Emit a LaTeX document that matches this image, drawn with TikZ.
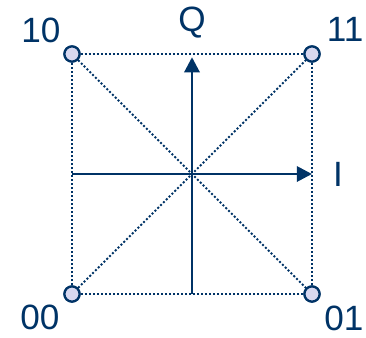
\documentclass[tikz,border=0pt]{standalone}
\usepackage{fontspec}
\setmainfont{Liberation Sans}
\usetikzlibrary{arrows.meta}
\definecolor{navy}{RGB}{0,51,102}
\definecolor{dotfill}{RGB}{216,216,240}
\begin{document}
\begin{tikzpicture}[
  pt/.style={circle,draw=navy,fill=dotfill,line width=1.6pt,minimum size=0.38cm,inner sep=0pt},
  lbl/.style={text=navy,inner sep=0pt,font=\fontsize{25}{30}\selectfont},
  grid/.style={navy,line width=1.4pt,dash pattern=on 1.4pt off 1.45pt},
  axis/.style={navy,line width=2pt,-{Triangle[length=0.38cm,width=0.38cm]}}]
\useasboundingbox (-4.8,-4.075) rectangle (4.35,4.35);
\coordinate (o) at (0,0);
\coordinate (l) at (-3,0);
\coordinate (r) at (3,0);
\coordinate (b) at (0,-3);
\coordinate (t) at (0,3);
\node[pt] (p10) at (-3,3) {};
\node[pt] (p11) at (3,3) {};
\node[pt] (p00) at (-3,-3) {};
\node[pt] (p01) at (3,-3) {};
% dotted square and diagonals
\draw[grid] (p10) -- (p11) -- (p01) -- (p00) -- (p10);
\draw[grid] (p10) -- (p01);
\draw[grid] (p00) -- (p11);
% axes
\draw[axis] (l) -- (r);
\draw[axis] (b) -- ([yshift=-0.08cm]t);
\node[pt] at (p10) {};
\node[pt] at (p11) {};
\node[pt] at (p00) {};
\node[pt] at (p01) {};
\node[lbl] (n10) at (-3.78,3.6) {10};
\node[lbl] (n11) at (3.83,3.62) {11};
\node[lbl] (n00) at (-3.8,-3.58) {00};
\node[lbl] (n01) at (3.8,-3.6) {01};
\node[lbl] (q) at (0,3.775) {Q};
\node[lbl] (i) at (3.65,0) {I};
\end{tikzpicture}
\end{document}
